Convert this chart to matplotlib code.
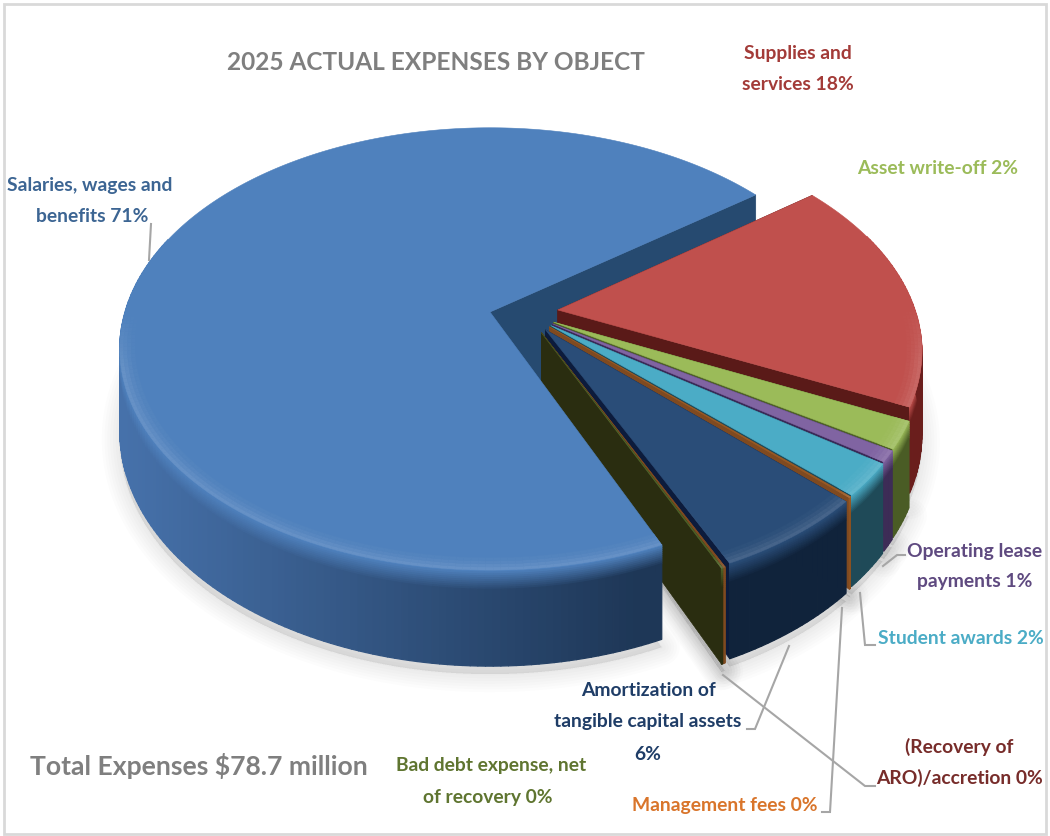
"""Exploded 3D pie of 2025 expenses, drawn as projected polygons."""
import matplotlib
matplotlib.use("Agg")
import matplotlib.pyplot as plt
import numpy as np
from matplotlib.collections import PolyCollection
from matplotlib.colors import to_rgb
from matplotlib.patches import Polygon, Rectangle

plt.rcParams["font.family"] = ["Lato", "DejaVu Sans"]

# ---- data (percent of total, clockwise from the supplies slice) ----
NAMES = ["Supplies and services", "Asset write-off", "Operating lease payments",
         "Student awards", "Management fees", "Amortization of tangible capital assets",
         "(Recovery of ARO)/accretion", "Bad debt expense, net of recovery",
         "Salaries, wages and benefits"]
SHARES = [17.3, 2.0, 0.8, 2.4, 0.07, 5.98, 0.1, 0.05, 71.3]
TOP_COLORS = ["#c0504d", "#9bbb59", "#8064a2", "#4bacc6", "#9a5a24",
              "#2a4d78", "#7f4a20", "#4f6228", "#4f81bd"]
WALL_COLORS = ["#5a1a18", "#4f6228", "#3a2a58", "#1f4a58", "#7f4a20",
               "#0c1b3c", "#7f4a20", "#2a2d10", "#264a70"]
RIM_LEFT = ["#8a2a27", "#4f6228", "#3d2c56", "#1f4a58", "#8a5020",
            "#10233b", "#7f4a20", "#2a2d10", "#4671aa"]
RIM_RIGHT = ["#6a1e1c", "#4a5c25", "#3d2c56", "#1f4a58", "#8a5020",
             "#10233b", "#7f4a20", "#2a2d10", "#1e3757"]
TITLE = "2025 ACTUAL EXPENSES BY OBJECT"
TOTAL = "Total Expenses $78.7 million"

# projection of the disc: unit circle -> screen pixels with a little perspective
CX, CY, RX, RY, HT, PERSP = 490, 312, 365, 215, 80, 0.167
START_DEG = 36.8
EXPLODE = 0.188
EXPLODE_FALL = 0.0003    # slices further round are pulled out a bit less
DIR_FACTOR = 0.52        # explode direction as a fraction of the bisector angle
PIECE_R = 0.98           # pulled-out slices come out slightly smaller
GREY = "#a6a6a6"


def proj(x, y, z=0.0):
    w = 1 + PERSP * y
    return CX + RX * x / w, CY + (-RY * y + HT * z) / w


def mix(c1, c2, t):
    c1, c2 = np.array(to_rgb(c1)), np.array(to_rgb(c2))
    return tuple(c1 + (c2 - c1) * t)


def arc(a0, a1, ox, oy, r=1.0, z=0.0, n=None):
    n = n or max(4, int(abs(a1 - a0) / 1.0))
    t = np.deg2rad(np.linspace(a0, a1, n))
    return proj(ox + r * np.cos(t), oy + r * np.sin(t), z)


def wall(ax, a, ox, oy, col, zo, z=1.0, rad=1.0):
    ex, ey = ox + rad * np.cos(np.deg2rad(a)), oy + rad * np.sin(np.deg2rad(a))
    pts = [proj(ox, oy), proj(ex, ey), proj(ex, ey, z), proj(ox, oy, z)]
    ax.add_patch(Polygon(pts, facecolor=col, edgecolor=col, lw=0.5, zorder=zo))


def draw_body(ax, a0, a1, ox, oy, top, rim_l, rim_r, zo, rad=1.0):
    """Rim, top face and bevel. a0 > a1 in degrees, clockwise span."""
    step = np.linspace(a1, a0, max(3, int((a0 - a1) / 1.0) + 1))
    levels = np.r_[np.linspace(0, 0.2, 11), 1.0]
    span = (CX + RX * 0.4, CX - RX)
    polys, cols = [], []
    for s0, s1 in zip(step[:-1], step[1:]):
        c0, s_0 = rad * np.cos(np.deg2rad(s0)), rad * np.sin(np.deg2rad(s0))
        c1, s_1 = rad * np.cos(np.deg2rad(s1)), rad * np.sin(np.deg2rad(s1))
        if s_0 > 0.35 and s_1 > 0.35:
            continue
        mx = proj(ox + (c0 + c1) / 2, oy + (s_0 + s_1) / 2)[0]
        t = np.clip((mx - span[1]) / (span[0] - span[1]), 0, 1)
        base = mix(rim_l, rim_r, t)
        nlev = len(levels) - 2
        for k, (z0, z1) in enumerate(zip(levels[:-1], levels[1:])):
            polys.append([proj(ox + c0, oy + s_0, z0), proj(ox + c1, oy + s_1, z0),
                          proj(ox + c1, oy + s_1, z1), proj(ox + c0, oy + s_0, z1)])
            cols.append(mix(top, base, min(1, k / nlev)))
    ax.add_collection(PolyCollection(polys, facecolors=cols, edgecolors=cols,
                                     linewidths=0.9, zorder=zo + 0.1))

    # top face, then a lighter bevel along the near rim, fading at both ends
    xs, ys = arc(a0, a1, ox, oy, r=rad)
    ax.add_patch(Polygon([proj(ox, oy)] + list(zip(xs, ys)), facecolor=top,
                         edgecolor=top, lw=0.4, zorder=zo + 0.2))
    polys, cols = [], []
    rings = [(1.0, 0.99, 0.13), (0.99, 0.98, 0.09), (0.98, 0.97, 0.05), (0.97, 0.96, 0.02)]
    for s0, s1 in zip(step[:-1], step[1:]):
        fade = np.clip(-np.sin(np.deg2rad(s0)) / 0.25, 0, 1)
        if fade <= 0:
            continue
        for r0, r1, amt in rings:
            q0x, q0y = arc(s0, s1, ox, oy, r=r0 * rad, n=2)
            q1x, q1y = arc(s1, s0, ox, oy, r=r1 * rad, n=2)
            polys.append(list(zip(q0x, q0y)) + list(zip(q1x, q1y)))
            cols.append(mix(top, "#ffffff", amt * fade))
    if polys:
        ax.add_collection(PolyCollection(polys, facecolors=cols, edgecolors=cols,
                                         linewidths=0.3, zorder=zo + 0.3))


def main():
    fig = plt.figure(figsize=(10.5, 8.36), dpi=100)
    ax = fig.add_axes([0, 0, 1, 1])
    ax.set_xlim(0, 1050)
    ax.set_ylim(836, 0)
    ax.axis("off")
    ax.add_patch(Rectangle((4, 4), 1042, 830, fill=False, edgecolor="#d9d9d9", lw=2, zorder=0))

    # slice angles from the shares
    ang = START_DEG
    spans = []
    for sh in SHARES:
        spans.append((ang, ang - sh * 3.6))
        ang -= sh * 3.6
    offsets = []
    for i, (a0, a1) in enumerate(spans):
        if i == len(spans) - 1:
            offsets.append((0.0, 0.0))
            continue
        mid_deg = (a0 + a1) / 2
        mag = EXPLODE - EXPLODE_FALL * abs(mid_deg)
        mid = np.deg2rad(mid_deg * DIR_FACTOR)
        offsets.append((mag * np.cos(mid), mag * np.sin(mid)))

    blue = len(SHARES) - 1

    # soft shadow under the pie
    for lw in range(26, 1, -4):
        for i, ((a0, a1), (ox, oy)) in enumerate(zip(spans, offsets)):
            rad = 1.0 if i == blue else PIECE_R
            xs, ys = arc(a0, a1, ox, oy, r=rad, z=1.0)
            pts = [proj(ox, oy, 1.0)] + list(zip(xs, ys + 8))
            ax.add_patch(Polygon(pts, facecolor=(0, 0, 0, 0.012), edgecolor=(0, 0, 0, 0.012),
                                 lw=lw, zorder=0.5, joinstyle="round"))

    # painter's order: back wall of the big slice, then the pulled-out slices
    # clockwise, and the big slice's rim and top last because it sits in front
    wall(ax, spans[blue][1], 0, 0, WALL_COLORS[blue], 1, z=1.25)
    for i in range(blue):
        a0, a1 = spans[i]
        ox, oy = offsets[i]
        zo = 2 + i
        wall(ax, a0, ox, oy, WALL_COLORS[i], zo, rad=PIECE_R)
        wall(ax, a1, ox, oy, WALL_COLORS[i], zo, rad=PIECE_R)
        draw_body(ax, a0, a1, ox, oy, TOP_COLORS[i], RIM_LEFT[i], RIM_RIGHT[i], zo, rad=PIECE_R)
    draw_body(ax, spans[blue][0], spans[blue][1], 0, 0, TOP_COLORS[blue],
              RIM_LEFT[blue], RIM_RIGHT[blue], 2 + blue)

    # leader lines
    leaders = [[(151, 224), (149, 260)],
               [(905, 555), (897, 555), (883, 566)],
               [(875, 645), (865, 645), (860, 593)],
               [(822, 812), (830, 812), (842, 608)],
               [(875, 786), (865, 786), (723, 675)],
               [(747, 729), (755, 729), (789, 646)]]
    for pts in leaders:
        ax.plot(*zip(*pts), color=GREY, lw=1.5, zorder=30, solid_joinstyle="miter")

    # text
    def label(x, y, s, col, size=13.9, ha="center"):
        ax.text(x, y + 1, s, color=col, fontsize=size, fontweight="bold", ha=ha, va="center", zorder=40)

    label(436, 62, TITLE, "#7f7f7f", size=17.6)
    label(199, 765, TOTAL, "#7f7f7f", size=19.1)
    label(798, 53, "Supplies and", "#a33b38")
    label(798, 84, "services 18%", "#a33b38")
    label(938, 168, "Asset write-off 2%", "#9bbb59")
    label(90, 184, "Salaries, wages and", "#3c6593")
    label(92, 216, "benefits 71%", "#3c6593")
    label(975, 550, "Operating lease", "#5f4a80")
    label(975, 581, "payments 1%", "#5f4a80")
    label(961, 637, "Student awards 2%", "#4bacc6")
    label(959, 746, "(Recovery of", "#772c2a")
    label(959, 777, "ARO)/accretion 0%", "#772c2a")
    label(725, 804, "Management fees 0%", "#d9752b")
    label(648, 689, "Amortization of", "#1f3d67")
    label(648, 721, "tangible capital assets", "#1f3d67")
    label(648, 754, "6%", "#1f3d67")
    label(491, 765, "Bad debt expense, net", "#5f7530")
    label(488, 796, "of recovery 0%", "#5f7530")

    fig.savefig("out.png", dpi=100)


if __name__ == "__main__":
    main()
